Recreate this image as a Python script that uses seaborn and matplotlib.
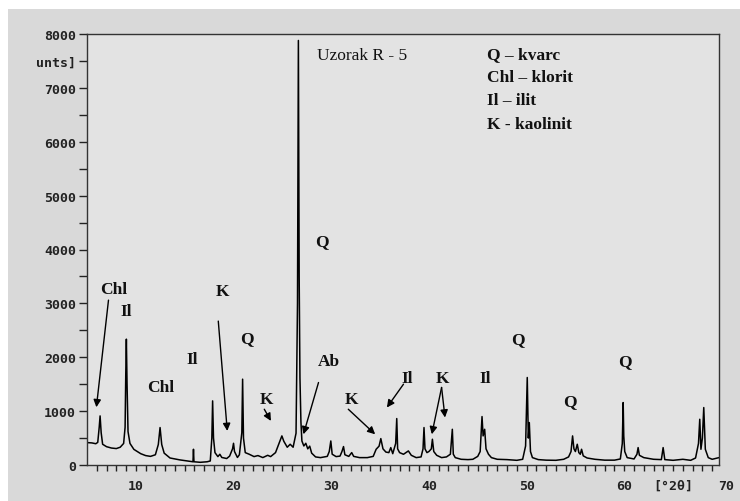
import numpy as np
import pandas as pd
import matplotlib
matplotlib.use("Agg")
import matplotlib.pyplot as plt
from matplotlib.patches import Rectangle
import seaborn as sns

# ===============================
# DATA
# ===============================
two_theta = [
    5.0, 5.5, 5.9, 6.1, 6.25, 6.34, 6.45, 6.6, 7.0, 7.5, 8.0, 8.4, 8.75, 8.9, 8.97, 9.03,
    9.1, 9.2, 9.4, 9.8, 10.5, 11.0, 11.5, 12.0, 12.3, 12.48, 12.65, 12.9, 13.5, 14.5,
    15.5, 15.85, 15.9, 15.95, 16.6, 17.3, 17.62, 17.78, 17.86, 17.95, 18.1, 18.4, 18.6,
    18.8, 19.3, 19.6, 19.9, 20.0, 20.1, 20.4, 20.6, 20.85, 20.93, 21.02, 21.2, 21.6,
    22.1, 22.5, 23.0, 23.5, 23.8, 24.3, 24.7, 24.95, 25.15, 25.5, 25.8, 26.1, 26.4,
    26.55, 26.64, 26.72, 26.8, 26.9, 27.0, 27.2, 27.4, 27.6, 27.8, 28.0, 28.4, 28.9,
    29.6, 29.8, 29.96, 30.1, 30.5, 30.9, 31.1, 31.26, 31.4, 31.8, 32.1, 32.3, 32.9,
    33.7, 34.3, 34.6, 34.9, 35.08, 35.3, 35.6, 35.9, 36.1, 36.3, 36.6, 36.71, 36.8,
    37.0, 37.4, 37.9, 38.2, 38.7, 39.2, 39.4, 39.5, 39.6, 39.8, 40.0, 40.25, 40.36,
    40.5, 40.8, 41.3, 41.8, 42.2, 42.4, 42.5, 42.7, 43.3, 44.0, 44.5, 45.0, 45.25,
    45.44, 45.55, 45.71, 45.85, 46.1, 46.4, 47.0, 48.0, 49.0, 49.6, 49.9, 50.07, 50.18,
    50.28, 50.4, 50.6, 51.2, 52.0, 53.0, 53.8, 54.3, 54.55, 54.71, 54.85, 55.0, 55.19,
    55.35, 55.5, 55.63, 55.8, 56.2, 57.0, 58.0, 59.0, 59.6, 59.8, 59.89, 59.95, 60.05,
    60.3, 61.0, 61.3, 61.42, 61.55, 62.0, 63.0, 63.8, 63.98, 64.15, 65.0, 66.0, 66.8,
    67.3, 67.6, 67.73, 67.85, 68.0, 68.14, 68.3, 68.6, 69.0, 69.7,
]
counts = [
    416, 410, 395, 420, 700, 911, 600, 385, 340, 315, 305, 330, 400, 700, 1700, 2336,
    1500, 620, 400, 290, 210, 175, 160, 190, 380, 695, 380, 220, 130, 95,
    70, 60, 292, 60, 50, 60, 75, 500, 1190, 500, 230, 156, 199,
    140, 120, 165, 300, 403, 250, 140, 190, 600, 1593, 500, 230, 200,
    156, 175, 138, 180, 156, 230, 420, 540, 440, 330, 385, 330, 590,
    3000, 7880, 3500, 1624, 800, 446, 353, 403, 300, 350, 220, 150, 137,
    160, 250, 446, 200, 156, 165, 250, 342, 190, 160, 230, 160, 137,
    137, 160, 292, 350, 490, 300, 240, 230, 323, 210, 400, 862, 300,
    230, 199, 261, 180, 137, 150, 300, 695, 300, 230, 250, 300, 478,
    250, 180, 137, 150, 200, 663, 200, 137, 106, 100, 106, 160, 250,
    899, 540, 663, 300, 200, 137, 106, 100, 87, 106, 353, 1624, 500,
    788, 250, 137, 100, 90, 87, 106, 150, 250, 540, 300, 250, 385,
    230, 200, 292, 170, 130, 106, 90, 90, 112, 400, 1159, 540, 250,
    137, 112, 200, 323, 180, 137, 106, 100, 323, 100, 87, 106, 87,
    130, 400, 849, 292, 500, 1066, 292, 137, 106, 137,
]

# phase labels: text, label position, arrow tips (2theta, counts)
label_text = ["Chl", "Il", "Chl", "Il", "K", "Q", "K", "Q", "Ab", "K", "Il", "K", "Il",
              "Q", "Q", "Q"]
label_x = [7.75, 9.0, 12.5, 15.75, 18.85, 21.37, 23.42, 29.1, 29.72, 32.1, 37.74, 41.4,
           45.75, 49.1, 54.44, 60.06]
label_y = [3270, 2850, 1445, 1965, 3228, 2349, 1221, 4155, 1933, 1221, 1624, 1624,
           1624, 2336, 1190, 1933]

arrow_from = [(7.2, 3060), (18.44, 2671), (23.15, 1035), (28.7, 1531), (31.75, 1035),
              (37.4, 1500), (41.3, 1439), (41.3, 1439)]
arrow_to = [(5.96, 1072), (19.36, 632), (23.83, 818), (27.16, 570), (34.5, 570),
            (35.7, 1067), (40.3, 570), (41.65, 881)]

legend_lines = ["Q \u2013 kvarc", "Chl \u2013 klorit", "Il \u2013 ilit", "K - kaolinit"]
sample_name = "Uzorak R - 5"

y_ticks = [0, 1000, 2000, 3000, 4000, 5000, 6000, 7000, 7500, 8000]
y_labels = ["0", "1000", "2000", "3000", "4000", "5000", "6000", "7000", "unts]", "8000"]
x_ticks = [10, 20, 30, 40, 50, 60, 65]
x_labels = ["10", "20", "30", "40", "50", "60", "[\u00b02\u03b8]"]

# ===============================
# STYLE
# ===============================
sns.set_theme(style="ticks")
plt.rcParams["font.family"] = ["DejaVu Sans Mono", "DejaVu Sans"]

fig = plt.figure(figsize=(7.4, 5.02), dpi=100, facecolor="white")
fig.patches.append(Rectangle((8 / 740, 0), 1, 1 - 10 / 502, transform=fig.transFigure,
                             facecolor="#d9d9d9", edgecolor="none", zorder=-10))
ax = fig.add_axes([87 / 740, 1 - 466 / 502, (719 - 87) / 740, (466 - 35) / 502])
ax.set_facecolor("#e3e3e3")

df = pd.DataFrame({"two_theta": two_theta, "counts": counts})
sns.lineplot(data=df, x="two_theta", y="counts", ax=ax, color="black", linewidth=1.1,
             estimator=None, sort=False)

ax.set_xlim(5.0, 69.7)
ax.set_ylim(0, 8000)
ax.set_xlabel("")
ax.set_ylabel("")

ax.set_yticks(y_ticks)
ax.set_yticklabels(y_labels)
ax.set_yticks([500, 1500, 2500, 3500, 4500, 5500, 6500], minor=True)
ax.set_xticks(x_ticks)
ax.set_xticklabels(x_labels)
ax.set_xticks(np.arange(6, 70, 1), minor=True)

ax.tick_params(axis="y", which="both", direction="out", length=6, width=1, pad=2,
               labelsize=9.5, colors="#222222")
ax.tick_params(axis="x", which="both", direction="out", length=4, width=1, pad=6,
               labelsize=9.5, colors="#222222")
for lab in ax.get_xticklabels() + ax.get_yticklabels():
    lab.set_fontweight("bold")
ax.text(70.4, -0.032, "70", transform=ax.get_xaxis_transform(), ha="center", va="top",
        fontsize=9.5, fontweight="bold", color="#222222", clip_on=False)

for side in ["left", "right", "top", "bottom"]:
    ax.spines[side].set_color("#333333")
    ax.spines[side].set_linewidth(1.0)

# ===============================
# ANNOTATIONS
# ===============================
serif = ["Liberation Serif", "DejaVu Serif"]
for t, x, y in zip(label_text, label_x, label_y):
    ax.text(x, y, t, ha="center", va="center", fontsize=12.5, fontweight="bold",
            family=serif, color="#111111")

for (x0, y0), (x1, y1) in zip(arrow_from, arrow_to):
    ax.annotate("", xy=(x1, y1), xytext=(x0, y0),
                arrowprops=dict(arrowstyle="-|>", color="black", lw=1.0,
                                mutation_scale=11, shrinkA=0, shrinkB=0))

ax.text(28.53, 7602, sample_name, ha="left", va="center", fontsize=12.5, family=serif,
        color="#111111")
for i, line in enumerate(legend_lines):
    ax.text(45.9, 7634 - i * 434, line, ha="left", va="center", fontsize=12.5,
            fontweight="bold", family=serif, color="#111111")

fig.savefig("out.png", dpi=100, facecolor=fig.get_facecolor())
